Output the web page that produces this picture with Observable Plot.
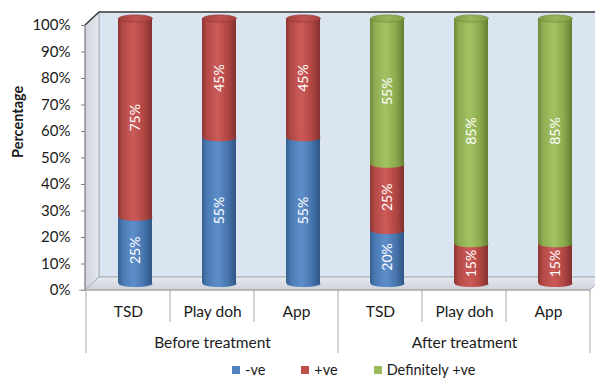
<!DOCTYPE html>
<html>
<head>
<meta charset="utf-8">
<script src="https://cdn.jsdelivr.net/npm/d3@7"></script>
<script src="https://cdn.jsdelivr.net/npm/@observablehq/plot@0.6"></script>
<style>
  body { margin: 0; background: #fff; font-family: Lato, "Open Sans", sans-serif; }
  #chart svg { display: block; overflow: hidden; }
  #legend { height: 19px; padding-left: 232px; display: flex; align-items: center; font: 14.5px Lato, sans-serif; color: #1a1a1a; }
  #legend .item { display: flex; align-items: center; margin-right: 36px; }
  #legend .sw { width: 8px; height: 8px; margin-right: 5px; }
</style>
</head>
<body>
<div id="chart"></div>
<div id="legend"></div>
<script>
// Groups, categories and series
const groups = ["Before treatment", "After treatment"];
const categories = ["TSD", "Play doh", "App"];
const series = ["-ve", "+ve", "Definitely +ve"];
const seriesColors = ["#4f81bd", "#c0504d", "#9bbb59"];

// Percentages per bar (Before: TSD, Play doh, App; After: TSD, Play doh, App)
const negative = [25, 55, 55, 20, 0, 0];
const positive = [75, 45, 45, 25, 15, 15];
const definite = [0, 0, 0, 55, 85, 85];

const yTicks = [0, 10, 20, 30, 40, 50, 60, 70, 80, 90, 100];

// Build long-format rows for stacking
const keys = [];
const cells = [];
groups.forEach((g, gi) => categories.forEach((c, ci) => {
  const key = g + "|" + c;
  keys.push(key);
  cells.push({key, group: g, category: c, index: gi * 3 + ci});
}));
const rows = [];
cells.forEach(cell => {
  [negative, positive, definite].forEach((arr, si) => {
    const v = arr[cell.index];
    if (v > 0) rows.push({key: cell.key, series: series[si], si, value: v});
  });
});
const tops = cells.map(cell => {
  const segs = rows.filter(r => r.key === cell.key);
  return {key: cell.key, si: segs[segs.length - 1].si, total: d3.sum(segs, d => d.value)};
});
const groupCenters = groups.map((g, gi) => ({group: g, key: keys[gi * 3 + 1]}));

// 3D depth of the chart box
const DX = 14, DY = 13;
// Cylinder offset from the front plane
const CX = 7, CY = -7;

// Flat ellipse used for cylinder caps and bases
const ellipse = {
  draw(ctx) {
    const rx = 17, ry = 3.6, k = 0.5523;
    ctx.moveTo(-rx, 0);
    ctx.bezierCurveTo(-rx, -ry * k, -rx * k, -ry, 0, -ry);
    ctx.bezierCurveTo(rx * k, -ry, rx, -ry * k, rx, 0);
    ctx.bezierCurveTo(rx, ry * k, rx * k, ry, 0, ry);
    ctx.bezierCurveTo(-rx * k, ry, -rx, ry * k, -rx, 0);
    ctx.closePath();
  }
};

// Side wall, back wall and floor of the chart box
function box(index, {x, y}, values, dims) {
  const g = d3.create("svg:g");
  const x0 = dims.marginLeft, x1 = dims.width - dims.marginRight;
  const y0 = y(0), y1 = y(100);
  g.append("rect")
    .attr("x", x0 + DX).attr("y", y1 - DY)
    .attr("width", x1 - x0 + 30).attr("height", y0 - y1)
    .attr("fill", "#dbe5f1").attr("stroke", "#a6aeb8").attr("stroke-width", 0.8);
  g.append("path")
    .attr("d", `M${x0},${y1}L${x0 + DX},${y1 - DY}L${x0 + DX},${y0 - DY}L${x0},${y0}Z`)
    .attr("fill", "url(#sideWall)").attr("stroke", "#9aa2ad").attr("stroke-width", 0.8);
  g.append("path")
    .attr("d", `M${x0},${y0}L${x0 + DX},${y0 - DY}L${x1 + DX},${y0 - DY}L${x1},${y0}Z`)
    .attr("fill", "url(#floor)").attr("stroke", "#9aa2ad").attr("stroke-width", 0.8);
  g.append("path")
    .attr("d", `M${x0},${y1}L${x0 + DX},${y1 - DY}L${x1 + 40},${y1 - DY}`)
    .attr("fill", "none").attr("stroke", "#3f3f3f").attr("stroke-width", 1.6);
  g.append("line")
    .attr("x1", x0).attr("x2", x0).attr("y1", y1).attr("y2", y0)
    .attr("stroke", "#7f7f7f");
  return g.node();
}

// Two-level category axis below the floor
function categoryAxis(index, {x, y}, values, dims) {
  const g = d3.create("svg:g").attr("stroke", "#a5a5a5").attr("fill", "none");
  const y0 = y(0);
  const bw = x.bandwidth();
  g.append("line").attr("x1", dims.marginLeft - 6).attr("x2", x(keys[keys.length - 1]) + bw)
    .attr("y1", y0).attr("y2", y0);
  keys.forEach((k, i) => {
    const long = i % 3 === 0;
    g.append("line").attr("x1", x(k)).attr("x2", x(k))
      .attr("y1", y0).attr("y2", y0 + (long ? 63 : 32));
  });
  const xe = x(keys[keys.length - 1]) + bw;
  g.append("line").attr("x1", xe).attr("x2", xe).attr("y1", y0).attr("y2", y0 + 63);
  return g.node();
}

const chart = Plot.plot({
  width: 595,
  height: 360,
  marginTop: 25,
  marginBottom: 70,
  marginLeft: 85,
  marginRight: 5,
  style: {fontFamily: "Lato, sans-serif", color: "#1a1a1a", overflow: "hidden"},
  x: {type: "band", domain: keys, padding: 0, axis: null},
  y: {domain: [0, 100], axis: null},
  color: {type: "ordinal", domain: [0, 1, 2], range: ["url(#cyl0)", "url(#cyl1)", "url(#cyl2)"]},
  marks: [
    box,
    Plot.axisY({ticks: yTicks, tickFormat: d => d + "%", tickSize: 4, tickPadding: 11,
      fontSize: 15, stroke: "#7f7f7f", fill: "#1a1a1a", label: null}),
    Plot.text(["Percentage"], {frameAnchor: "left", dx: -67, rotate: -90,
      fontWeight: "bold", fontSize: 14.5, fill: "#1a1a1a"}),
    categoryAxis,
    Plot.text(cells, {x: "key", y: 0, text: "category", dy: 22, fontSize: 15.5, fill: "#1a1a1a"}),
    Plot.text(groupCenters, {x: "key", y: 0, text: "group", dy: 53, fontSize: 15.5, fill: "#1a1a1a"}),
    // cylinder bodies
    Plot.barY(rows, Plot.stackY({x: "key", y: "value", fill: "si", insetLeft: 25, insetRight: 25, dx: CX, dy: CY})),
    // rounded base of every segment
    Plot.dot(rows, Plot.stackY1({x: "key", y: "value", fill: "si", symbol: ellipse, dx: CX, dy: CY})),
    // top caps
    Plot.dot(tops, {x: "key", y: "total", fill: d => "url(#cap" + d.si + ")", symbol: ellipse,
      stroke: d => ["#2f5684", "#8a3331", "#6b8438"][d.si], strokeWidth: 0.6, dx: CX, dy: CY}),
    // value labels
    Plot.text(rows, Plot.stackY({x: "key", y: "value", text: d => d.value + "%", rotate: -90,
      fill: "white", fontSize: 14, dx: CX, dy: CY}))
  ]
});

// Gradients giving the cylinders, walls and floor their shading
const defs = d3.select(chart).insert("defs", ":first-child");
function hGrad(id, stops) {
  const lg = defs.append("linearGradient").attr("id", id).attr("x1", 0).attr("x2", 1).attr("y1", 0).attr("y2", 0);
  stops.forEach(([o, c]) => lg.append("stop").attr("offset", o).attr("stop-color", c));
}
hGrad("cyl0", [[0, "#36608f"], [0.15, "#4a7ab4"], [0.45, "#5f8fcb"], [0.75, "#4775ad"], [1, "#2f5584"]]);
hGrad("cyl1", [[0, "#8f3634"], [0.15, "#b54a47"], [0.45, "#cc5b58"], [0.75, "#b24643"], [1, "#823130"]]);
hGrad("cyl2", [[0, "#6e8a3a"], [0.15, "#8fad51"], [0.45, "#a3c363"], [0.75, "#8cab4f"], [1, "#647f33"]]);
hGrad("cap0", [[0, "#3f6ca3"], [0.5, "#5584bf"], [1, "#3f6ca3"]]);
hGrad("cap1", [[0, "#a4403e"], [0.5, "#c05350"], [1, "#a4403e"]]);
hGrad("cap2", [[0, "#7f9c46"], [0.5, "#97b75a"], [1, "#7f9c46"]]);
hGrad("sideWall", [[0, "#cfd4db"], [1, "#e4e8ee"]]);
const fl = defs.append("linearGradient").attr("id", "floor").attr("x1", 0).attr("x2", 0).attr("y1", 0).attr("y2", 1);
fl.append("stop").attr("offset", 0).attr("stop-color", "#e6e9ee");
fl.append("stop").attr("offset", 1).attr("stop-color", "#cdd2d9");

document.getElementById("chart").append(chart);

// Legend
const legend = d3.select("#legend");
series.forEach((s, i) => {
  const item = legend.append("div").attr("class", "item");
  item.append("div").attr("class", "sw").style("background", seriesColors[i]);
  item.append("span").text(s);
});
</script>
</body>
</html>
